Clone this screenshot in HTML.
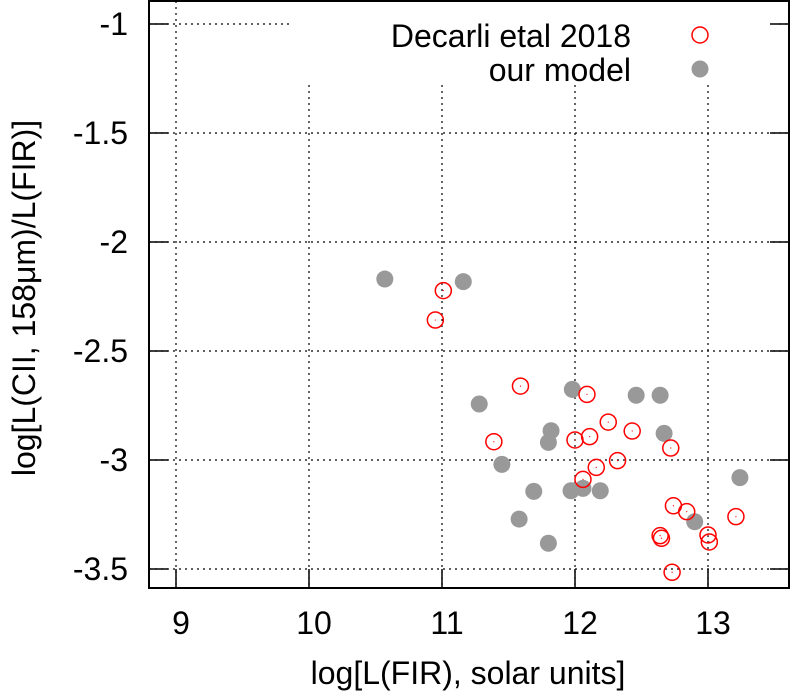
<!DOCTYPE html>
<html><head><meta charset="utf-8"><style>
body{margin:0;background:#fff}
svg text{font-family:"Liberation Sans",sans-serif;fill:#000}
</style></head><body>
<svg id="chart" width="791" height="694" viewBox="0 0 791 694" xmlns="http://www.w3.org/2000/svg">
<rect width="791" height="694" fill="#fff"/>
<g id="grid"></g>
<rect x="293" y="2" width="485" height="82" fill="#fff"/>
<g id="marks"></g>
<g id="axes"></g>
<g>
<text x="631" y="47" font-size="32" text-anchor="end">Decarli etal 2018</text>
<circle cx="700" cy="35" r="8" fill="none" stroke="#f00" stroke-width="1.5"/>
<text x="631" y="81" font-size="32" text-anchor="end">our model</text>
<circle cx="700" cy="69" r="8.5" fill="#999"/>
</g>
<text x="468" y="684" font-size="32" text-anchor="middle">log[L(FIR), solar units]</text>
<text transform="translate(35,298) rotate(-90)" font-size="32" text-anchor="middle">log[L(CII, 158μm)/L(FIR)]</text>
</svg>
<script>
const xTicks=[9,10,11,12,13];
const yTicks=[-1,-1.5,-2,-2.5,-3,-3.5];
const yTickLabels=["-1","-1.5","-2","-2.5","-3","-3.5"];
const decarliX=[11.01,10.95,11.59,12.09,11.39,12.25,12.11,12.00,12.43,12.72,12.32,12.16,12.06,12.74,12.84,13.21,12.64,12.65,13.00,13.01,12.73];
const decarliY=[-2.223,-2.358,-2.661,-2.699,-2.916,-2.826,-2.893,-2.908,-2.867,-2.945,-3.003,-3.034,-3.089,-3.21,-3.237,-3.26,-3.347,-3.359,-3.344,-3.376,-3.515];
const modelX=[10.57,11.16,11.28,11.98,12.46,12.64,11.82,11.80,12.67,11.45,11.69,11.97,12.06,12.19,11.58,11.80,12.90,13.24];
const modelY=[-2.17,-2.182,-2.743,-2.676,-2.703,-2.703,-2.866,-2.919,-2.878,-3.02,-3.144,-3.141,-3.13,-3.141,-3.271,-3.382,-3.283,-3.081];
const L=149,R=789,T=1,B=588;
const sx=v=>176+(v-9)*133;
const sy=v=>24+(-1-v)*218;
const NS="http://www.w3.org/2000/svg";
function mk(tag,parent,attrs){const e=document.createElementNS(NS,tag);for(const k in attrs)e.setAttribute(k,attrs[k]);parent.appendChild(e);return e;}
const grid=document.getElementById('grid'),axes=document.getElementById('axes'),marks=document.getElementById('marks');
xTicks.forEach(t=>{
 const g=mk('line',grid,{x1:sx(t),x2:sx(t),y1:T,y2:B,stroke:'#000','stroke-width':1.2,'stroke-dasharray':'2,4'});
 
 
 const tk=mk('line',axes,{x1:sx(t),x2:sx(t),y1:B,y2:B-19,stroke:'#000','stroke-width':1.5});
 
 
 const tx=mk('text',axes,{x:sx(t)+5,y:634,'font-size':32,'text-anchor':'middle'});
 tx.textContent=t;
 
 
});
yTicks.forEach((t,i)=>{
 const g=mk('line',grid,{x1:L,x2:R,y1:sy(t),y2:sy(t),stroke:'#000','stroke-width':1.2,'stroke-dasharray':'2,4'});
 
 
 const tk=mk('line',axes,{x1:L,x2:L+19,y1:sy(t),y2:sy(t),stroke:'#000','stroke-width':1.5});
 
 
 const tk2=mk('line',axes,{x1:R-19,x2:R,y1:sy(t),y2:sy(t),stroke:'#000','stroke-width':1.5});
 
 
 const tx=mk('text',axes,{x:128,y:sy(t)+11,'font-size':32,'text-anchor':'end'});
 tx.textContent=yTickLabels[i];
 
 
});
const fr=mk('rect',axes,{x:L,y:T,width:R-L,height:B-T,fill:'none',stroke:'#000','stroke-width':2});


modelX.forEach((x,i)=>{
 const c=mk('circle',marks,{cx:sx(x),cy:sy(modelY[i]),r:8.5,fill:'#999'});
 
 
});
decarliX.forEach((x,i)=>{
 const c=mk('circle',marks,{cx:sx(x),cy:sy(decarliY[i]),r:8,fill:'none',stroke:'#f00','stroke-width':1.5});
 
 
 const d=mk('circle',marks,{cx:sx(x),cy:sy(decarliY[i]),r:0.6,fill:'#f00'});
 
 
});
</script>
</body></html>
